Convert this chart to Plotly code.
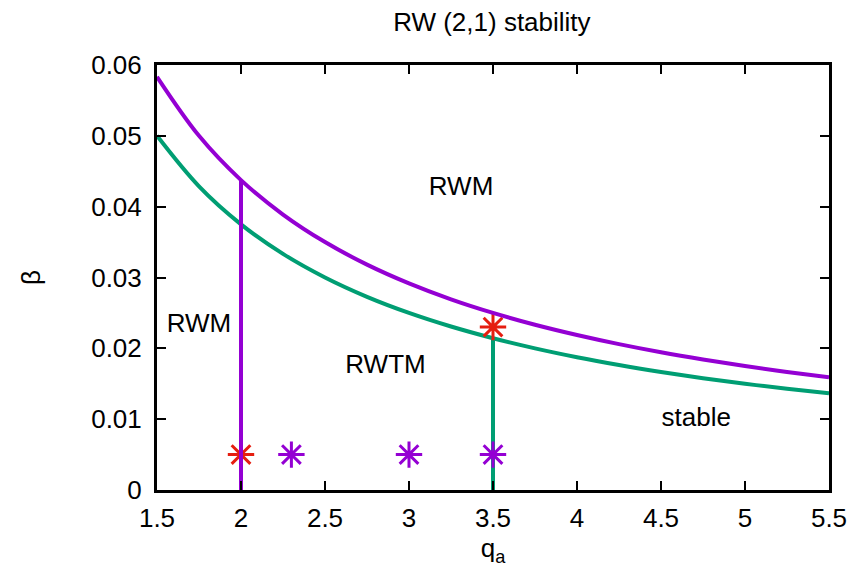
import plotly.graph_objects as go

# Stability boundaries in the (q_a, beta) plane
q_a = [1.5, 1.75, 2.0, 2.25, 2.5, 2.75, 3.0, 3.25, 3.5, 3.75, 4.0, 4.25, 4.5,
       4.75, 5.0, 5.25, 5.5]
beta_rwm = [0.05833, 0.05, 0.04375, 0.03889, 0.035, 0.03182, 0.02917, 0.02692,
            0.025, 0.02333, 0.02188, 0.02059, 0.01944, 0.01842, 0.0175,
            0.01667, 0.01591]
beta_rwtm = [0.05, 0.04286, 0.0375, 0.03333, 0.03, 0.02727, 0.025, 0.02308,
             0.02143, 0.02, 0.01875, 0.01765, 0.01667, 0.01579, 0.015,
             0.01429, 0.01364]

# Vertical boundaries
rwm_wall_q = [2.0, 2.0]
rwm_wall_beta = [0.0, 0.04375]
rwtm_wall_q = [3.5, 3.5]
rwtm_wall_beta = [0.0, 0.02143]

# Simulation cases
red_q = [2.0, 3.5]
red_beta = [0.005, 0.023]
violet_q = [2.3, 3.0, 3.5]
violet_beta = [0.005, 0.005, 0.005]

# Region labels
region_text = ["RWM", "RWM", "RWTM", "stable"]
region_q = [3.31, 1.75, 2.86, 4.71]
region_beta = [0.0426, 0.0232, 0.0175, 0.0099]

x_ticks = [1.5, 2, 2.5, 3, 3.5, 4, 4.5, 5, 5.5]
x_tick_text = ["1.5", "2", "2.5", "3", "3.5", "4", "4.5", "5", "5.5"]
y_ticks = [0, 0.01, 0.02, 0.03, 0.04, 0.05, 0.06]
y_tick_text = ["0", "0.01", "0.02", "0.03", "0.04", "0.05", "0.06"]

VIOLET = "#9400d3"
GREEN = "#009e73"
RED = "#e51e10"
FONT = "Liberation Sans, Arial, sans-serif"
FS = 26

fig = go.Figure()
fig.add_trace(go.Scatter(x=q_a, y=beta_rwtm, mode="lines", line_shape="spline",
                         line=dict(color=GREEN, width=4), hoverinfo="skip"))
fig.add_trace(go.Scatter(x=rwtm_wall_q, y=rwtm_wall_beta, mode="lines",
                         line=dict(color=GREEN, width=4), hoverinfo="skip"))
fig.add_trace(go.Scatter(x=red_q, y=red_beta, mode="markers",
                         marker=dict(symbol="asterisk-open", size=22, color=RED,
                                     line=dict(color=RED, width=3))))
fig.add_trace(go.Scatter(x=q_a, y=beta_rwm, mode="lines", line_shape="spline",
                         line=dict(color=VIOLET, width=4), hoverinfo="skip"))
fig.add_trace(go.Scatter(x=rwm_wall_q, y=rwm_wall_beta, mode="lines",
                         line=dict(color=VIOLET, width=4), hoverinfo="skip"))
fig.add_trace(go.Scatter(x=violet_q, y=violet_beta, mode="markers",
                         marker=dict(symbol="asterisk-open", size=22, color=VIOLET,
                                     line=dict(color=VIOLET, width=3))))
fig.add_trace(go.Scatter(x=region_q, y=region_beta, mode="text", text=region_text,
                         textfont=dict(family=FONT, size=FS, color="black"),
                         hoverinfo="skip"))

axis_common = dict(showline=True, linecolor="black", linewidth=3, mirror="ticks",
                   ticks="inside", ticklen=9, tickwidth=1.5, tickcolor="black",
                   showgrid=False, zeroline=False, automargin=False,
                   tickfont=dict(family=FONT, size=FS, color="black"))

fig.update_layout(
    width=855, height=575,
    margin=dict(l=157, r=26, t=65, b=85),
    paper_bgcolor="white", plot_bgcolor="white",
    showlegend=False,
    title=dict(text="RW (2,1) stability", x=0.5753, xanchor="center",
               y=0.962, yanchor="middle",
               font=dict(family=FONT, size=FS, color="black")),
    xaxis=dict(range=[1.5, 5.5], tickvals=x_ticks, ticktext=x_tick_text,
               ticklabelstandoff=3,
               title=dict(text="q<sub>a</sub>", standoff=6,
                          font=dict(family=FONT, size=FS, color="black")),
               **axis_common),
    yaxis=dict(range=[0, 0.06], tickvals=y_ticks, ticktext=y_tick_text,
               ticklabelstandoff=7,
               title=dict(text="β", standoff=44,
                          font=dict(family=FONT, size=FS, color="black")),
               **axis_common),
)

fig.write_html("out.html")
